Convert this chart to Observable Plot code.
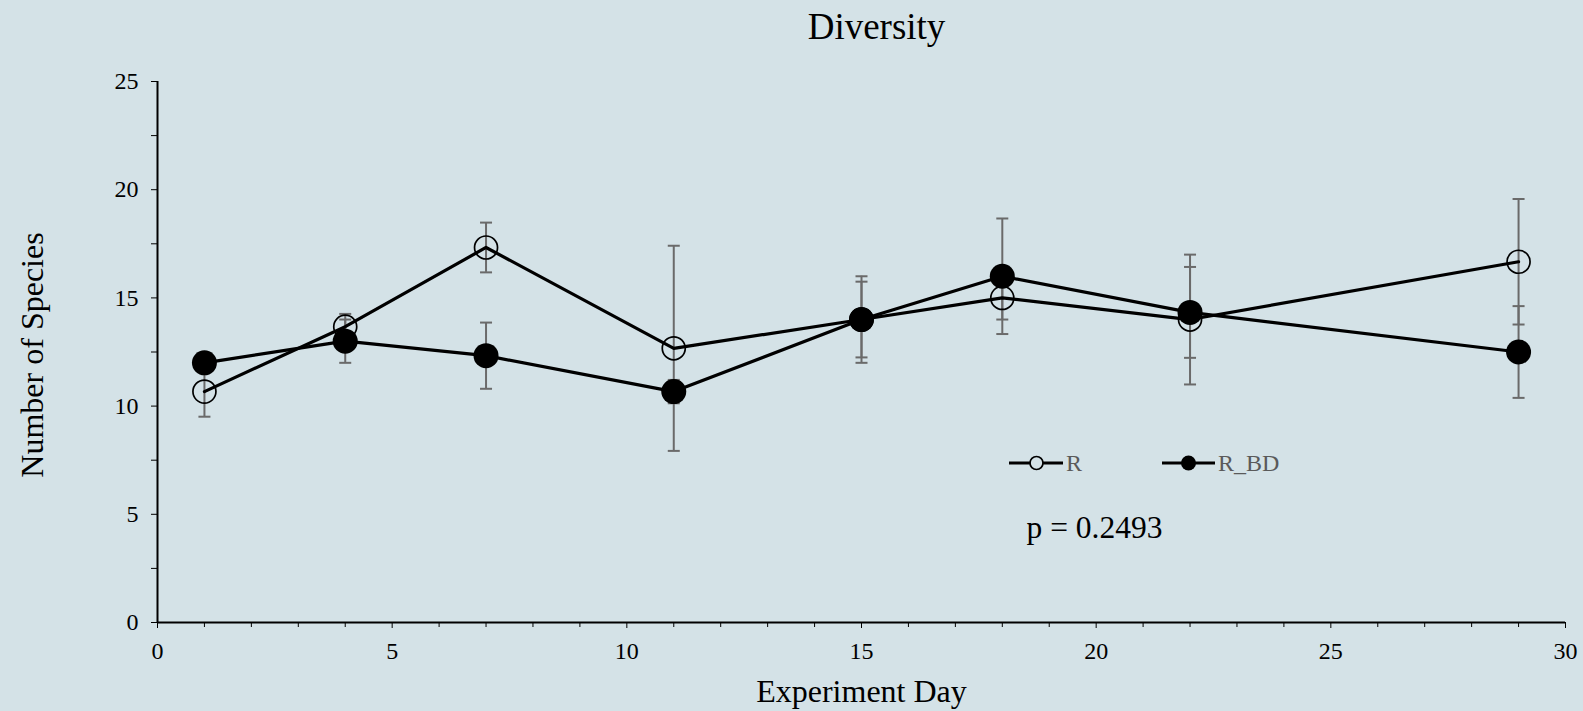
<!DOCTYPE html>
<html><head><meta charset="utf-8">
<script src="https://cdn.jsdelivr.net/npm/d3@7"></script>
<script src="https://cdn.jsdelivr.net/npm/@observablehq/plot@0.6"></script>
<style>
html,body{margin:0;padding:0;background:#d4e2e7;}
#chart{position:relative;width:1583px;height:711px;}
#legend{position:absolute;left:0;top:0;pointer-events:none;}
#chart svg [aria-label$="tick label"], #chart svg [aria-label$="tick label"] text{font-size:24px !important;}
</style></head><body><div id="chart"></div>
<script>
// ---- data ----
const days = [1, 4, 7, 11, 15, 18, 22, 29];
const rMean = [10.67, 13.67, 17.33, 12.67, 14, 15, 14, 16.67];
const rErr = [1.16, 0.59, 1.15, 4.74, 2.0, 1.0, 3.0, 2.9];
const bdMean = [12, 13, 12.33, 10.67, 14, 16, 14.33, 12.5];
const bdErr = [0.4, 1.0, 1.53, 0.54, 1.75, 2.67, 2.1, 2.12];
const seriesNames = ["R", "R_BD"];
const yTicks = [0, 5, 10, 15, 20, 25];
const yMinor = [2.5, 7.5, 12.5, 17.5, 22.5];
const xTicks = [0, 5, 10, 15, 20, 25, 30];
const xMinor = [1,2,3,4,6,7,8,9,11,12,13,14,16,17,18,19,21,22,23,24,26,27,28,29];
const titleText = "Diversity";
const xLabel = "Experiment Day";
const yLabel = "Number of Species";
const pText = "p = 0.2493";

const rows = [
  ...days.map((d, i) => ({series: seriesNames[0], day: d, mean: rMean[i], err: rErr[i]})),
  ...days.map((d, i) => ({series: seriesNames[1], day: d, mean: bdMean[i], err: bdErr[i]}))
];

const cap = {
  draw(ctx, size) {
    const w = Math.sqrt(size / Math.PI);
    ctx.moveTo(-w, 0); ctx.lineTo(w, 0);
  }
};

const W = 1583, H = 711, ML = 157, MR = 18, MT = 81, MB = 89;
const font = "'Liberation Serif', 'Times New Roman', serif";
const errColor = "#6a6a6a";

const plot = Plot.plot({
  width: W, height: H,
  marginLeft: ML, marginRight: MR, marginTop: MT, marginBottom: MB,
  style: {background: "#d4e2e7", fontFamily: font, fontSize: "24px", color: "black"},
  x: {domain: [0, 30]},
  y: {domain: [0, 25]},
  marks: [
    Plot.axisY({ticks: yMinor, tickSize: 6, text: null, label: null}),
    Plot.axisY({ticks: yTicks, tickSize: 6, tickPadding: 13, fontSize: 24, tickFormat: d => d, label: null}),
    Plot.axisX({ticks: xMinor, tickSize: 5, text: null, label: null}),
    Plot.axisX({ticks: xTicks, tickSize: 6, tickPadding: 13, fontSize: 24, tickFormat: d => d, label: null}),
    Plot.ruleX([0], {stroke: "black", strokeWidth: 2}),
    Plot.ruleY([0], {stroke: "black", strokeWidth: 2}),
    Plot.ruleX(rows, {x: "day", y1: d => d.mean - d.err, y2: d => d.mean + d.err, stroke: errColor, strokeWidth: 2}),
    Plot.dot(rows, {x: "day", y: d => d.mean - d.err, symbol: cap, r: 6, stroke: errColor, strokeWidth: 2, fill: "none"}),
    Plot.dot(rows, {x: "day", y: d => d.mean + d.err, symbol: cap, r: 6, stroke: errColor, strokeWidth: 2, fill: "none"}),
    Plot.line(rows, {x: "day", y: "mean", z: "series", stroke: "black", strokeWidth: 3.2}),
    Plot.dot(rows.filter(d => d.series === seriesNames[0]), {x: "day", y: "mean", r: 11.5, stroke: "black", strokeWidth: 1.7, fill: "none"}),
    Plot.dot(rows.filter(d => d.series === seriesNames[1]), {x: "day", y: "mean", r: 12.5, fill: "black"}),
    Plot.text([titleText], {frameAnchor: "top", dx: 15, dy: -54, lineAnchor: "middle", fontSize: 37, fill: "black"}),
    Plot.text([xLabel], {frameAnchor: "bottom", dy: 69, lineAnchor: "middle", fontSize: 32, fill: "black"}),
    Plot.text([yLabel], {frameAnchor: "left", dx: -125, dy: 3, rotate: -90, textAnchor: "middle", lineAnchor: "middle", fontSize: 32, fill: "black"}),
    Plot.text([pText], {frameAnchor: "top-left", dx: 869, dy: 456, textAnchor: "start", lineAnchor: "bottom", fontSize: 31.5, fill: "black"})
  ]
});
const chart = document.getElementById("chart");
chart.appendChild(plot);

// legend overlay
const ns = "http://www.w3.org/2000/svg";
const lg = document.createElementNS(ns, "svg");
lg.setAttribute("id", "legend");
lg.setAttribute("width", W); lg.setAttribute("height", H);
const items = [
  {name: seriesNames[0], x1: 1009, x2: 1063, cx: 1036.5, filled: false, r: 6.5, tx: 1066},
  {name: seriesNames[1], x1: 1162, x2: 1215, cx: 1188.5, filled: true, r: 7.5, tx: 1218}
];
const ly = 463;
for (const it of items) {
  const l = document.createElementNS(ns, "line");
  l.setAttribute("x1", it.x1); l.setAttribute("x2", it.x2);
  l.setAttribute("y1", ly); l.setAttribute("y2", ly);
  l.setAttribute("stroke", "black"); l.setAttribute("stroke-width", 3.2);
  lg.appendChild(l);
  const c = document.createElementNS(ns, "circle");
  c.setAttribute("cx", it.cx); c.setAttribute("cy", ly); c.setAttribute("r", it.r);
  c.setAttribute("fill", it.filled ? "black" : "#d4e2e7");
  c.setAttribute("stroke", "black"); c.setAttribute("stroke-width", it.filled ? 0 : 1.7);
  lg.appendChild(c);
  const t = document.createElementNS(ns, "text");
  t.setAttribute("x", it.tx); t.setAttribute("y", ly);
  t.setAttribute("dy", "0.34em");
  t.setAttribute("font-family", font); t.setAttribute("font-size", 24);
  t.setAttribute("fill", "#5a5a5a");
  t.textContent = it.name;
  lg.appendChild(t);
}
chart.appendChild(lg);
</script></body></html>
